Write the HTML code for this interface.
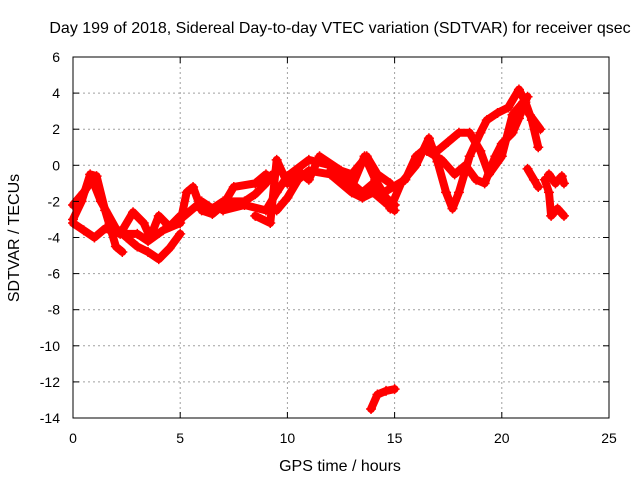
<!DOCTYPE html>
<html><head><meta charset="utf-8"><style>
body{margin:0;background:#fff}
svg{display:block;font-family:"Liberation Sans",sans-serif}
</style></head><body>
<svg id="c" width="640" height="480">
<rect width="640" height="480" fill="#fff"/>
<text x="340" y="33" font-size="16" text-anchor="middle">Day 199 of 2018, Sidereal Day-to-day VTEC variation (SDTVAR) for receiver qsec</text>
<g id="grid"></g><g id="data"></g>
<rect x="73" y="57" width="536" height="361" fill="none" stroke="#000" stroke-width="1"/>
<g id="ticks"></g>
<text x="340" y="471" font-size="16" text-anchor="middle">GPS time / hours</text>
<text transform="translate(19,238) rotate(-90)" font-size="16" text-anchor="middle">SDTVAR / TECUs</text>
</svg>
<script>
const xTicks=[0,5,10,15,20,25];
const yTicks=[6,4,2,0,-2,-4,-6,-8,-10,-12,-14];
const track1=[[0,-3],[0.4,-2],[0.8,-0.5],[1.1,-0.6],[1.5,-2.5],[2,-4.5],[2.3,-4.8]];
const track2=[[0,-2.2],[0.5,-1.5],[0.9,-0.8],[1.3,-2],[2,-3.5],[2.5,-4],[3,-4.5],[3.5,-4.8],[4,-5.2],[4.5,-4.6],[5,-3.8]];
const track3=[[0,-3.2],[0.5,-3.6],[1,-4],[1.5,-3.5],[2.2,-3.8],[2.8,-2.6],[3.3,-3.2],[3.6,-4],[4,-2.8],[4.5,-3.4],[5,-2.8]];
const track4=[[1.8,-3.5],[2.5,-3.8],[3,-3.8],[3.5,-4.2],[4.2,-3.6],[5,-3.2],[5.3,-1.5],[5.6,-1.2],[6,-2.5],[6.5,-2.7],[7,-2.2],[7.5,-1.2],[8.5,-1],[9,-0.5]];
const track5=[[5,-3],[6,-2],[6.5,-2.4],[7,-2],[8,-2],[8.5,-1.6],[9,-1],[9.3,-0.5]];
const track6=[[7,-2.5],[8,-2.2],[9,-2.5],[9.5,-1.5],[10,-0.6],[11,0.3],[12,0],[13,-1],[13.5,-1.5],[14,-1],[14.5,-1.8],[15,-2.2]];
const track7=[[8.5,-2.8],[9.2,-3.2],[9.5,0.3],[10,-1],[10.5,-0.3],[11,-0.8],[11.5,0.5],[12.5,-0.3],[13,-0.5],[13.7,0.5],[14.2,-0.5],[14.8,-1]];
const track8=[[9.5,-2.5],[10,-1.8],[10.5,-0.8],[11,-0.3],[12,-0.5],[13,-1.5],[13.5,-1.8],[14,-1.5],[14.5,-2],[15,-2.5]];
const track9=[[14.8,-2.4],[15.3,-1],[16,0],[16.6,1.5],[17,0.2],[17.4,-1.5],[17.7,-2.4],[18,-1.5],[18.5,0.5],[19,1.8],[19.3,2.5],[19.8,2.9],[20.3,3.2],[20.8,4.2],[21.1,3.5],[21.4,2.5],[21.7,1]];
const track10=[[14.5,-1.5],[15.5,-0.8],[16,0.5],[16.5,1],[17,0.8],[17.5,1.3],[18,1.8],[18.5,1.8],[19,0.8],[19.4,-0.5],[20,0.5],[20.5,2.8],[21,3.5],[21.3,2.8],[21.8,2]];
const track11=[[16.5,0.8],[17.2,0.3],[17.8,-0.5],[18.3,0],[18.8,-0.8],[19.2,-1],[19.7,0.5],[20,1.2],[20.5,1.8],[20.8,2.6],[21,3.3],[21.2,3.8]];
const track12=[[12,-0.3],[12.5,-0.5],[13,-1.2],[13.6,0.5],[14.1,-0.8],[14.6,-1.8],[15,-2.2]];
const track13=[[21.2,-0.2],[21.5,-0.8],[21.7,-1.2]];
const track14=[[22,-0.8],[22.2,-1.5],[22.3,-2.8],[22.6,-2.4],[22.9,-2.8]];
const track15=[[22.2,-0.5],[22.5,-1],[22.8,-0.6],[22.9,-1]];
const track16=[[13.9,-13.5],[14.2,-12.7],[14.6,-12.5],[15,-12.4]];
const tracks=[track1,track2,track3,track4,track5,track6,track7,track8,track9,track10,track11,track12,track13,track14,track15,track16];

const X=h=>73+h*536/25, Y=v=>57+(6-v)*361/20;
const NS='http://www.w3.org/2000/svg';
function mk(t,a,p){const e=document.createElementNS(NS,t);for(const k in a)e.setAttribute(k,a[k]);p.appendChild(e);return e;}
const g=document.getElementById('grid'),tk=document.getElementById('ticks'),d=document.getElementById('data');
xTicks.forEach(t=>{
  if(t>0&&t<25){const l=mk('line',{x1:X(t),x2:X(t),y1:57,y2:418,stroke:'#a0a0a0','stroke-dasharray':'2,3'},g);
  
  }
  mk('line',{x1:X(t),x2:X(t),y1:418,y2:412,stroke:'#000'},tk);
  mk('line',{x1:X(t),x2:X(t),y1:57,y2:63,stroke:'#000'},tk);
  const s=mk('text',{x:X(t),y:443,'font-size':14,'text-anchor':'middle'},tk);s.textContent=t;
  
  
});
yTicks.forEach(t=>{
  if(t<6&&t>-14){const l=mk('line',{x1:73,x2:609,y1:Y(t),y2:Y(t),stroke:'#a0a0a0','stroke-dasharray':'2,3'},g);
  
  }
  mk('line',{x1:73,x2:79,y1:Y(t),y2:Y(t),stroke:'#000'},tk);
  mk('line',{x1:603,x2:609,y1:Y(t),y2:Y(t),stroke:'#000'},tk);
  const s=mk('text',{x:60,y:Y(t)+5,'font-size':14,'text-anchor':'end'},tk);s.textContent=t;
  
  
});
tracks.forEach((tr,i)=>{
  const p=mk('polyline',{points:tr.map(q=>X(q[0])+','+Y(q[1])).join(' '),fill:'none',stroke:'#ff0000','stroke-width':8,'stroke-linejoin':'round','stroke-linecap':'round'},d);
  
  
  tr.forEach(q=>{
    const m=mk('path',{d:`M${X(q[0])-5},${Y(q[1])}h10M${X(q[0])},${Y(q[1])-5}v10`,stroke:'#ff0000','stroke-width':1.5},d);
    
    
  });
});
</script>
</body></html>
